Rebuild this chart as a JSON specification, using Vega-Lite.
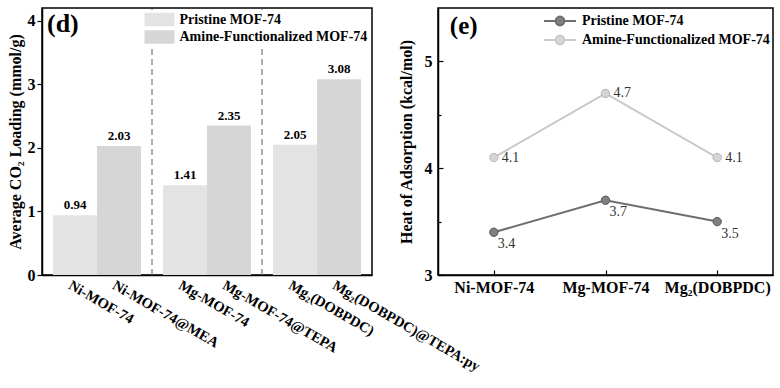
{
  "$schema": "https://vega.github.io/schema/vega-lite/v6.json",
  "background": "white",
  "padding": {"left": 6, "top": 6, "right": 5, "bottom": 0},
  "bounds": "flush",
  "spacing": 66,
  "resolve": {"scale": {"color": "independent"}, "legend": {"color": "independent"}},
  "config": {
    "font": "Liberation Serif",
    "view": {"stroke": "#000", "strokeWidth": 1.5},
    "axis": {
      "domainColor": "#000", "domainWidth": 1.5, "tickColor": "#000", "tickWidth": 1.2,
      "labelFont": "Liberation Serif", "labelFontWeight": "bold", "labelColor": "#000",
      "titleFont": "Liberation Serif", "titleFontWeight": "bold", "titleColor": "#000", "grid": false
    },
    "legend": {
      "labelFont": "Liberation Serif", "labelFontWeight": "bold", "labelColor": "#000", "labelFontSize": 14, "labelLimit": 400
    }
  },
  "datasets": {
    "bars": [
      {"group": "Ni", "series": "Pristine MOF-74", "label": "Ni-MOF-74", "value": 0.94},
      {"group": "Ni", "series": "Amine-Functionalized MOF-74", "label": "Ni-MOF-74@MEA", "value": 2.03},
      {"group": "Mg", "series": "Pristine MOF-74", "label": "Mg-MOF-74", "value": 1.41},
      {"group": "Mg", "series": "Amine-Functionalized MOF-74", "label": "Mg-MOF-74@TEPA", "value": 2.35},
      {"group": "Mg2", "series": "Pristine MOF-74", "label": "Mg₂(DOBPDC)", "value": 2.05},
      {"group": "Mg2", "series": "Amine-Functionalized MOF-74", "label": "Mg₂(DOBPDC)@TEPA:py", "value": 3.08}
    ],
    "heat": [
      {"material": "Ni-MOF-74", "series": "Pristine MOF-74", "value": 3.4},
      {"material": "Mg-MOF-74", "series": "Pristine MOF-74", "value": 3.7},
      {"material": "Mg₂(DOBPDC)", "series": "Pristine MOF-74", "value": 3.5},
      {"material": "Ni-MOF-74", "series": "Amine-Functionalized MOF-74", "value": 4.1},
      {"material": "Mg-MOF-74", "series": "Amine-Functionalized MOF-74", "value": 4.7},
      {"material": "Mg₂(DOBPDC)", "series": "Amine-Functionalized MOF-74", "value": 4.1}
    ]
  },
  "hconcat": [
    {
      "width": 330,
      "height": 267,
      "data": {"name": "bars"},
      "layer": [
        {
          "mark": {"type": "bar"},
          "encoding": {
            "x": {"field": "group", "type": "nominal", "sort": null,
              "scale": {"paddingInner": 0.2, "paddingOuter": 0.1},
              "axis": {"title": null, "labels": false, "tickSize": -5}},
            "xOffset": {"field": "series", "type": "nominal", "sort": ["Pristine MOF-74", "Amine-Functionalized MOF-74"],
              "scale": {"paddingInner": 0, "paddingOuter": 0}},
            "y": {"field": "value", "type": "quantitative",
              "scale": {"domain": [0, 4.2], "nice": false},
              "axis": {"title": "Average CO₂ Loading (mmol/g)", "titleFontSize": 16, "titlePadding": 4,
                "values": [0, 0.5, 1, 1.5, 2, 2.5, 3, 3.5, 4],
                "labelExpr": "datum.value % 1 ? '' : '' + datum.value",
                "labelFontSize": 16, "labelPadding": 2,
                "tickSize": {"condition": {"test": "datum.value % 1", "value": 3}, "value": 5}}},
            "color": {"field": "series", "type": "nominal", "sort": ["Pristine MOF-74", "Amine-Functionalized MOF-74"],
              "scale": {"range": ["#e3e3e3", "#d6d6d6"]},
              "legend": {"title": null, "orient": "none", "legendX": 108, "legendY": 2,
                "symbolType": "M-2,-0.9H2V0.9H-2Z", "symbolSize": 225, "symbolStrokeWidth": 0,
                "fillColor": "white", "padding": 2, "rowPadding": 2.5, "labelOffset": 12.5}}
          }
        },
        {
          "mark": {"type": "text", "baseline": "bottom", "dy": -3, "fontSize": 13, "fontWeight": "bold", "color": "#000"},
          "encoding": {
            "x": {"field": "group", "type": "nominal", "sort": null},
            "xOffset": {"field": "series", "type": "nominal", "sort": ["Pristine MOF-74", "Amine-Functionalized MOF-74"]},
            "y": {"field": "value", "type": "quantitative"},
            "text": {"field": "value", "type": "quantitative", "format": ".2f"}
          }
        },
        {
          "mark": {"type": "text", "align": "left", "baseline": "top", "angle": 30, "dy": 4, "dx": 0, "fontSize": 14.5, "fontWeight": "bold", "color": "#000"},
          "encoding": {
            "x": {"field": "group", "type": "nominal", "sort": null},
            "xOffset": {"field": "series", "type": "nominal", "sort": ["Pristine MOF-74", "Amine-Functionalized MOF-74"]},
            "y": {"datum": 0},
            "text": {"field": "label", "type": "nominal"}
          }
        },
        {
          "transform": [{"filter": "datum.series == 'Pristine MOF-74' && datum.group != 'Mg2'"}],
          "mark": {"type": "rule", "strokeDash": [6, 4], "color": "#777", "strokeWidth": 1.2},
          "encoding": {
            "x": {"field": "group", "type": "nominal", "sort": null, "bandPosition": 1.125},
            "y": {"datum": 0},
            "y2": {"datum": 4.2}
          }
        },
        {
          "data": {"values": [{"panel": "(d)"}]},
          "mark": {"type": "text", "align": "left", "baseline": "middle", "dx": -6, "fontSize": 26, "fontWeight": "bold", "color": "#000"},
          "encoding": {
            "x": {"datum": "Ni", "bandPosition": 0},
            "y": {"datum": 3.95},
            "text": {"field": "panel"}
          }
        }
      ]
    },
    {
      "width": 335,
      "height": 267,
      "data": {"name": "heat"},
      "layer": [
        {
          "mark": {"type": "line", "strokeWidth": 2},
          "encoding": {
            "x": {"field": "material", "type": "nominal", "sort": null,
              "scale": {"type": "point", "padding": 0.5},
              "axis": {"title": null, "labelFontSize": 16, "labelAngle": 0, "tickSize": -5, "labelPadding": 9}},
            "y": {"field": "value", "type": "quantitative",
              "scale": {"domain": [3, 5.5], "nice": false},
              "axis": {"title": "Heat of Adsorption (kcal/mol)", "titleFontSize": 16, "titlePadding": 10,
                "values": [3, 3.5, 4, 4.5, 5],
                "labelExpr": "datum.value % 1 ? '' : '' + datum.value",
                "labelFontSize": 16, "labelPadding": 11,
                "tickSize": {"condition": {"test": "datum.value % 1", "value": -3}, "value": -5}}},
            "color": {"field": "series", "type": "nominal", "sort": ["Pristine MOF-74", "Amine-Functionalized MOF-74"],
              "scale": {"range": ["#6e6e6e", "#c9c9c9"]},
              "legend": {"title": null, "orient": "none", "legendX": 111, "legendY": 2,
                "symbolType": "M-2,0H-0.55M0.55,0H2M-0.55,0A0.55,0.55 0 1,0 0.55,0A0.55,0.55 0 1,0 -0.55,0Z",
                "symbolSize": 256, "symbolStrokeWidth": 2,
                "padding": 2, "rowPadding": 1, "labelOffset": 13,
                "encode": {"symbols": {"update": {
                  "fill": {"signal": "datum.value == 'Pristine MOF-74' ? '#808080' : '#d5d5d5'"},
                  "stroke": {"signal": "datum.value == 'Pristine MOF-74' ? '#6e6e6e' : '#c9c9c9'"}}}}}}
          }
        },
        {
          "transform": [{"filter": "datum.series == 'Pristine MOF-74'"}],
          "mark": {"type": "point", "filled": true, "size": 70, "fill": "#808080", "stroke": "#555555", "strokeWidth": 1, "opacity": 1},
          "encoding": {
            "x": {"field": "material", "type": "nominal", "sort": null},
            "y": {"field": "value", "type": "quantitative"}
          }
        },
        {
          "transform": [{"filter": "datum.series != 'Pristine MOF-74'"}],
          "mark": {"type": "point", "filled": true, "size": 70, "fill": "#d5d5d5", "stroke": "#b5b5b5", "strokeWidth": 1, "opacity": 1},
          "encoding": {
            "x": {"field": "material", "type": "nominal", "sort": null},
            "y": {"field": "value", "type": "quantitative"}
          }
        },
        {
          "transform": [{"filter": "datum.series == 'Pristine MOF-74'"}],
          "mark": {"type": "text", "align": "left", "baseline": "middle", "dx": 4, "dy": 12, "fontSize": 14, "color": "#333"},
          "encoding": {
            "x": {"field": "material", "type": "nominal", "sort": null},
            "y": {"field": "value", "type": "quantitative"},
            "text": {"field": "value", "type": "quantitative", "format": ".1f"}
          }
        },
        {
          "transform": [{"filter": "datum.series != 'Pristine MOF-74'"}],
          "mark": {"type": "text", "align": "left", "baseline": "middle", "dx": 8, "dy": 0, "fontSize": 14, "color": "#333"},
          "encoding": {
            "x": {"field": "material", "type": "nominal", "sort": null},
            "y": {"field": "value", "type": "quantitative"},
            "text": {"field": "value", "type": "quantitative", "format": ".1f"}
          }
        },
        {
          "data": {"values": [{"panel": "(e)"}]},
          "mark": {"type": "text", "align": "left", "baseline": "middle", "dx": -44, "fontSize": 25, "fontWeight": "bold", "color": "#000"},
          "encoding": {
            "x": {"datum": "Ni-MOF-74"},
            "y": {"datum": 5.33},
            "text": {"field": "panel"}
          }
        }
      ]
    }
  ]
}
